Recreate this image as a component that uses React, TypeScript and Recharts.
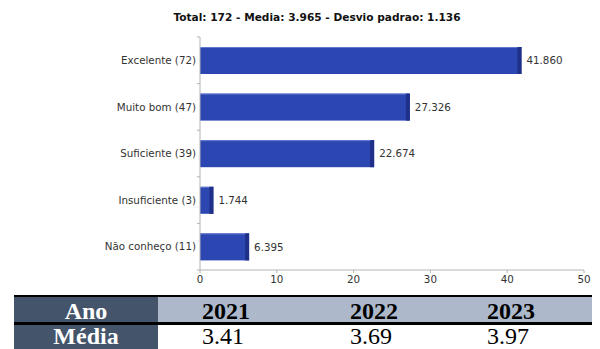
import React from "react";
import { BarChart, Bar, XAxis, YAxis, LabelList } from "recharts";

const categories = ["Excelente (72)", "Muito bom (47)", "Suficiente (39)", "Insuficiente (3)", "Não conheço (11)"];
const percents = [41.86, 27.326, 22.674, 1.744, 6.395];
const xTicks = [0, 10, 20, 30, 40, 50];
const title = "Total: 172 - Media: 3.965 - Desvio padrao: 1.136";
const tableYears = ["2021", "2022", "2023"];
const tableMeans = ["3.41", "3.69", "3.97"];

const data = categories.map((c, i) => ({ name: c, value: percents[i] }));

const W = 600;
const H = 300;
const M = { top: 37, right: 16, bottom: 0, left: 0 };
const Y_W = 200;
const X_H = 30;
const PLOT_H = H - M.top - M.bottom - X_H;
const BAND = PLOT_H / categories.length;
const FONT = "'DejaVu Sans', sans-serif";
const AXIS = "#b4b4b4";

const BarShape = (props: any) => {
  const { x, y, width, height } = props;
  if (width <= 0) return null;
  const edge = Math.min(4, width / 3);
  return (
    <g>
      <rect x={x} y={y} width={width} height={height} fill="#2c46b2" />
      <rect x={x} y={y} width={width} height={1} fill="#6378cf" />
      <rect x={x + width - edge} y={y} width={edge} height={height} fill="#1f3088" />
    </g>
  );
};

const YTick = (props: any) => {
  const { x, y, payload, index } = props;
  return (
    <g>
      <line x1={x + 1} x2={x + 4} y1={y - BAND / 2} y2={y - BAND / 2} stroke={AXIS} />
      {index === categories.length - 1 && (
        <line x1={x + 1} x2={x + 4} y1={y + BAND / 2} y2={y + BAND / 2} stroke={AXIS} />
      )}
      <text x={x} y={y} dy="0.35em" textAnchor="end" fill="#333" fontSize={10.3} fontFamily={FONT}>
        {payload.value}
      </text>
    </g>
  );
};

const cellText: React.CSSProperties = {
  position: "absolute",
  fontFamily: "'Liberation Serif', 'Times New Roman', serif",
  fontSize: 24,
  lineHeight: "18px",
  whiteSpace: "nowrap",
};

const yearX = [202, 350, 487];

export default function App() {
  return (
    <div style={{ position: "absolute", left: 0, top: 0, width: W, height: 349, background: "#fff", overflow: "hidden" }}>
      <div
        style={{
          position: "absolute",
          left: 317,
          top: 10,
          transform: "translateX(-50%)",
          fontFamily: FONT,
          fontWeight: "bold",
          fontSize: 10.6,
          lineHeight: "14px",
          color: "#111",
          whiteSpace: "nowrap",
        }}
      >
        {title}
      </div>
      <div style={{ position: "absolute", left: 0, top: 0 }}>
        <BarChart width={W} height={H} data={data} layout="vertical" margin={M}>
          <XAxis
            type="number"
            domain={[0, 50]}
            ticks={xTicks}
            height={X_H}
            stroke={AXIS}
            tickSize={3}
            tick={{ fill: "#333", fontSize: 10.3, fontFamily: FONT }}
            tickMargin={3}
          />
          <YAxis
            type="category"
            dataKey="name"
            width={Y_W}
            stroke={AXIS}
            tickLine={false}
            tickSize={4}
            tickMargin={0}
            tick={<YTick />}
            interval={0}
          />
          <Bar dataKey="value" barSize={27} shape={<BarShape />} isAnimationActive={false}>
            <LabelList
              dataKey="value"
              position="right"
              offset={5}
              formatter={(v: any) => Number(v).toFixed(3)}
              style={{ fill: "#333", fontSize: 10.3, fontFamily: FONT }}
            />
          </Bar>
        </BarChart>
      </div>

      <div style={{ position: "absolute", left: 14, top: 295, width: 578, height: 2, background: "#000" }} />
      <div style={{ position: "absolute", left: 14, top: 297, width: 144, height: 25, background: "#44546a" }} />
      <div style={{ position: "absolute", left: 158, top: 297, width: 434, height: 25, background: "#adb9ca" }} />
      <div style={{ position: "absolute", left: 14, top: 322, width: 578, height: 3, background: "#000" }} />
      <div style={{ position: "absolute", left: 14, top: 325, width: 144, height: 30, background: "#44546a" }} />

      <div style={{ ...cellText, left: 14, width: 144, textAlign: "center", top: 302, color: "#fff", fontWeight: "bold" }}>Ano</div>
      <div style={{ ...cellText, left: 14, width: 144, textAlign: "center", top: 327, color: "#fff", fontWeight: "bold" }}>Média</div>
      {tableYears.map((yv, i) => (
        <div key={yv} style={{ ...cellText, left: yearX[i], top: 302, color: "#000", fontWeight: "bold" }}>
          {yv}
        </div>
      ))}
      {tableMeans.map((mv, i) => (
        <div key={mv} style={{ ...cellText, left: yearX[i], top: 327, color: "#000" }}>
          {mv}
        </div>
      ))}
    </div>
  );
}
